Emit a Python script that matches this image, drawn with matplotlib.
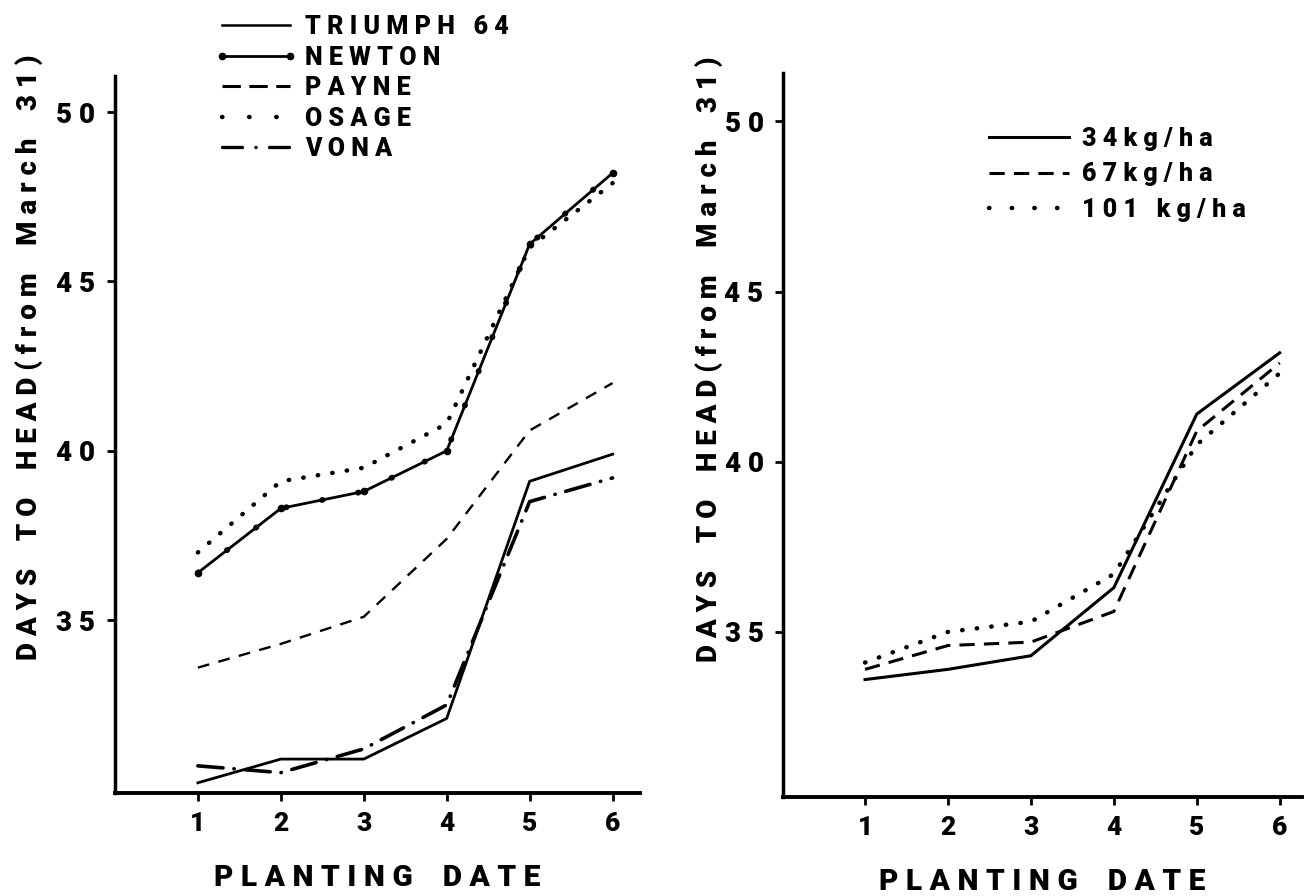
import numpy as np
import matplotlib.pyplot as plt
from matplotlib.lines import Line2D

plt.rcParams['font.family'] = ['Roboto', 'DejaVu Sans']

# planting dates
dates = [1, 2, 3, 4, 5, 6]

# left panel: cultivars
triumph = [30.2, 30.9, 30.9, 32.1, 39.1, 39.9]
newton = [36.4, 38.3, 38.8, 40.0, 46.1, 48.2]
payne = [33.6, 34.3, 35.1, 37.4, 40.6, 42.0]
osage = [37.0, 39.1, 39.5, 40.8, 46.0, 47.9]
vona = [30.7, 30.5, 31.2, 32.5, 38.5, 39.2]

# right panel: seeding rates
rate34 = [33.6, 33.9, 34.3, 36.3, 41.4, 43.2]
rate67 = [33.9, 34.6, 34.7, 35.6, 40.9, 42.9]
rate101 = [34.1, 35.0, 35.3, 36.7, 40.5, 42.6]

cultivar_names = ['TRIUMPH 64', 'NEWTON', 'PAYNE', 'OSAGE', 'VONA']
rate_names = ['34kg/ha', '67kg/ha', '101 kg/ha']

yticks = [35, 40, 45, 50]

W = 'black'  # heavy type like the scanned original


def spaced(s):
    return ' '.join(s)


dotted = (0, (0.1, 3.2))
fig = plt.figure(figsize=(13.06, 8.96), dpi=100)

axL = fig.add_axes([0.088, 0.115, 0.402, 0.800])
axR = fig.add_axes([0.5995, 0.1105, 0.3975, 0.808])

# ---- left panel
axL.plot(dates, triumph, color='black', lw=2.0)
axL.plot(dates, newton, color='black', lw=2.0, marker='o', ms=4.5)
axL.plot(dates, newton, color='black', lw=4.2, ls=(0, (0.1, 6.2)),
         dash_capstyle='round')
axL.plot(dates, payne, color='black', lw=1.7, ls=(0, (5, 4)))
axL.plot(dates, osage, color='black', lw=3.2, ls=dotted, dash_capstyle='round')
axL.plot(dates, vona, color='black', lw=2.6, ls=(0, (7, 3, 0.1, 3)),
         dash_capstyle='round')

axL.set_xlim(0.0, 6.33)
axL.set_ylim(29.9, 51.06)

handlesL = [
    Line2D([], [], color='black', lw=1.8),
    Line2D([], [], color='black', lw=2.0, marker='o', ms=4.5),
    Line2D([], [], color='black', lw=2.2, ls=(0, (6, 2.8))),
    Line2D([], [], color='black', lw=3.2, ls=(0, (0.1, 6)), dash_capstyle='round'),
    Line2D([], [], color='black', lw=2.4, ls=(0, (6, 4, 0.1, 4)), dash_capstyle='round'),
]
axL.legend(handlesL, [spaced(n) for n in cultivar_names],
           loc='upper left', bbox_to_anchor=(0.155, 0.997),
           bbox_transform=fig.transFigure, frameon=False,
           prop={'size': 18, 'weight': W},
           handlelength=3.3, handletextpad=0.3, labelspacing=0.26,
           numpoints=2, borderpad=0)

# ---- right panel
axR.plot(dates, rate34, color='black', lw=2.2)
axR.plot(dates, rate67, color='black', lw=2.2, ls=(0, (5, 3)))
axR.plot(dates, rate101, color='black', lw=3.2, ls=dotted, dash_capstyle='round')

axR.set_xlim(0.01, 6.27)
axR.set_ylim(30.15, 51.42)

handlesR = [
    Line2D([], [], color='black', lw=2.2),
    Line2D([], [], color='black', lw=2.2, ls=(0, (5, 3))),
    Line2D([], [], color='black', lw=3.2, ls=(0, (0.1, 5)), dash_capstyle='round'),
]
axR.legend(handlesR, [spaced(n) for n in rate_names],
           loc='upper left', bbox_to_anchor=(0.748, 0.872),
           bbox_transform=fig.transFigure, frameon=False,
           prop={'size': 18, 'weight': W},
           handlelength=3.2, handletextpad=0.5, labelspacing=0.45, borderpad=0)

ylabel_text = (spaced('DAYS') + '    ' + spaced('TO') + '    ' +
               spaced('HEAD(from') + '    ' + spaced('March') + '    ' + spaced('31)'))

for ax in (axL, axR):
    for side in ('top', 'right'):
        ax.spines[side].set_visible(False)
    ax.spines['left'].set_linewidth(2.5)
    ax.spines['bottom'].set_linewidth(2.8)
    ax.set_xticks(dates)
    ax.set_xticklabels([str(d) for d in dates], fontsize=19, fontweight=W)
    ax.set_yticks(yticks)
    ax.set_yticklabels([spaced(str(t)) for t in yticks], fontsize=20,
                       fontweight=W)
    ax.tick_params(axis='both', direction='out', length=6, width=2, pad=8)
    ax.set_xlabel(spaced('PLANTING') + '    ' + spaced('DATE'), fontsize=21.5,
                  fontweight=W, labelpad=20)
    ax.set_ylabel(ylabel_text, fontsize=20, fontweight=W)

axL.yaxis.set_label_coords(-0.137, 0.608)
axR.yaxis.set_label_coords(-0.115, 0.604)

fig.savefig('out.png', dpi=100)
